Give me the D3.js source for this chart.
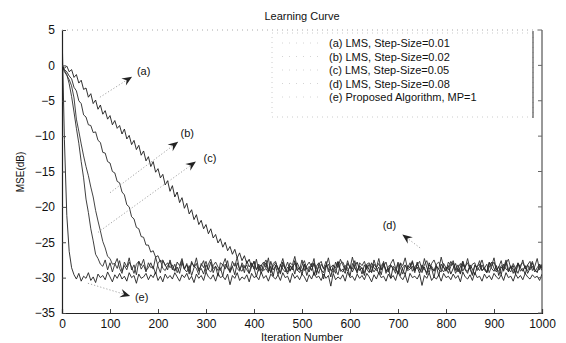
<!DOCTYPE html>
<html>
<head>
<meta charset="utf-8">
<script src="https://cdn.jsdelivr.net/npm/d3@7"></script>
<style>
  body { margin: 0; background: #fff; }
  text { font-family: "Liberation Sans", Arial, Helvetica, sans-serif; fill: #111; }
</style>
</head>
<body>
<div id="svgContainer"></div>
<script>
// iteration index shared by all curves (one sample every 5 iterations)
var iterations = d3.range(0, 1001, 5);

// (a) LMS, step-size 0.01
var mseA = [
  0.0,-0.4,-0.1,-0.9,-0.6,-1.7,-1.3,-2.5,-2.1,-3.4,
  -3.2,-4.5,-4.0,-5.4,-4.9,-6.2,-5.6,-6.9,-6.4,-7.6,
  -7.1,-8.4,-7.8,-8.9,-8.5,-9.7,-9.0,-10.4,-9.9,-11.2,
  -10.6,-11.9,-11.3,-12.7,-12.1,-13.5,-12.9,-14.3,-13.6,-15.1,
  -14.6,-15.9,-15.4,-16.9,-16.3,-17.8,-17.0,-18.6,-17.9,-19.4,
  -18.7,-20.2,-19.5,-21.0,-20.4,-21.8,-21.1,-22.5,-21.9,-23.1,
  -22.5,-23.8,-23.1,-24.4,-23.9,-25.1,-24.5,-25.7,-25.0,-26.2,
  -25.6,-26.7,-26.0,-27.2,-26.5,-27.6,-26.9,-28.0,-27.4,-28.5,
  -27.7,
  -28.9,-28.1,-29.4,-28.6,-27.9,-29.1,-28.4,-29.8,-28.2,-28.7,
  -29.3,-27.8,-28.8,-29.5,-28.3,-28.9,-27.6,-29.0,-28.5,-29.6,
  -28.1,-28.8,-29.2,-28.0,-29.7,-28.4,-27.9,-28.9,-29.3,-28.2,
  -28.7,-29.9,-28.3,-28.6,-27.7,-29.1,-28.8,-29.4,-28.0,-28.5,
  -29.2,-28.4,-27.8,-29.0,-28.6,-29.7,-28.2,-28.9,-29.3,-28.1,
  -28.6,-29.5,-28.3,-27.9,-29.1,-28.7,-30.1,-28.4,-28.8,-29.2,
  -28.0,-28.9,-29.6,-28.3,-28.6,-27.8,-29.0,-28.5,-29.4,-28.2,
  -28.8,-29.3,-27.9,-28.7,-29.1,-28.4,-29.8,-28.1,-28.6,-29.0,
  -28.3,-29.5,-28.7,-28.0,-29.2,-28.5,-27.7,-28.9,-29.4,-28.2,
  -28.8,-29.6,-28.4,-28.1,-29.0,-28.6,-29.3,-27.9,-28.7,-29.1,
  -28.3,-29.7,-28.5,-28.9,-27.8,-29.2,-28.4,-28.8,-29.5,-28.0,
  -28.6,-29.1,-28.3,-29.4,-28.7,-27.9,-28.9,-29.2,-28.4,-28.6
];

// (b) LMS, step-size 0.02
var mseB = [
  0.0,-0.6,-0.9,-1.5,-1.9,-3.1,-3.6,-5.0,-5.4,-7.0,
  -7.3,-8.4,-8.5,-9.5,-9.4,-10.6,-10.9,-12.3,-12.4,-13.6,
  -13.8,-15.0,-15.2,-16.4,-16.6,-17.9,-18.3,-19.7,-20.0,-21.4,
  -21.7,-22.9,-23.1,-24.2,-24.3,-25.4,-25.4,-26.4,-26.2,-27.1,
  -26.9,-27.8,-27.5,-28.3,-27.9,-28.6,
  -28.2,-29.0,-28.5,-29.4,-27.9,-28.8,-29.2,-28.3,-29.7,-28.6,
  -28.0,-29.1,-28.7,-29.5,-28.2,-28.9,-27.8,-29.3,-28.4,-29.0,
  -28.6,-29.8,-28.1,-28.7,-29.2,-28.4,-29.6,-27.9,-28.8,-29.1,
  -28.3,-28.9,-29.4,-28.0,-28.6,-29.9,-28.5,-28.2,-29.0,-28.7,
  -29.3,-27.7,-28.9,-28.4,-29.6,-28.1,-28.8,-29.2,-28.5,-29.0,
  -28.3,-29.5,-27.9,-28.7,-29.1,-28.2,-29.7,-28.6,-28.9,-28.0,
  -29.3,-28.4,-28.8,-30.2,-28.5,-28.1,-29.0,-28.7,-29.4,-27.8,
  -28.9,-29.2,-28.3,-28.6,-29.8,-28.0,-28.7,-29.1,-28.4,-29.5,
  -28.2,-28.8,-29.3,-27.9,-28.6,-29.0,-28.5,-29.6,-28.1,-28.9,
  -29.2,-28.3,-28.7,-29.4,-28.0,-29.7,-28.6,-28.2,-29.0,-28.8,
  -28.4,-29.3,-27.8,-28.9,-29.1,-28.5,-29.6,-28.2,-28.7,-30.0,
  -28.3,-28.9,-29.2,-28.0,-28.6,-29.4,-28.4,-27.9,-29.0,-28.7,
  -29.5,-28.1,-28.8,-29.1,-28.4,-29.7,-28.3,-28.6,-29.0,-28.2,
  -28.9,-29.3,-28.5,-27.8,-28.7,-29.2,-28.4,-29.6,-28.1,-28.8,
  -29.0,-28.3,-29.4,-28.6,-28.0,-29.1,-28.7,-29.5,-28.2,-28.9,
  -28.4,-29.2,-28.6,-28.1,-29.0
];

// (c) LMS, step-size 0.05
var mseC = [
  0.0,-0.9,-1.4,-2.0,-2.9,-4.6,-7.6,-9.3,-11.1,-12.8,
  -14.3,-15.6,-17.2,-18.6,-20.5,-22.0,-23.4,-24.9,-25.8,-27.0,
  -27.3,-28.1,
  -28.0,-28.7,-27.6,-29.1,-28.3,-28.9,-27.8,-28.5,-29.4,-28.1,
  -27.7,-28.8,-28.2,-29.2,-27.9,-28.6,-28.4,-29.5,-28.0,-27.5,
  -28.7,-29.0,-28.3,-27.8,-28.9,-28.1,-29.3,-28.5,-27.6,-28.8,
  -28.2,-29.1,-27.9,-28.4,-28.7,-29.6,-28.0,-28.6,-27.7,-28.9,
  -29.2,-28.3,-27.8,-28.5,-29.0,-28.1,-28.8,-27.6,-29.3,-28.4,
  -28.0,-28.7,-29.1,-27.9,-28.6,-28.2,-29.4,-28.5,-27.7,-28.9,
  -28.3,-29.0,-28.1,-27.5,-28.8,-29.2,-28.4,-27.9,-28.6,-29.5,
  -28.2,-28.7,-27.8,-29.1,-28.5,-28.0,-28.9,-29.3,-28.3,-27.6,
  -28.8,-28.4,-29.0,-27.9,-28.6,-29.4,-28.1,-28.7,-27.7,-29.2,
  -28.5,-28.2,-28.9,-29.6,-28.0,-27.8,-28.6,-29.1,-28.4,-28.8,
  -27.6,-29.0,-28.3,-28.7,-29.3,-28.1,-27.9,-28.5,-29.2,-28.6,
  -28.0,-28.9,-27.7,-29.4,-28.4,-28.2,-28.8,-29.0,-27.8,-28.6,
  -29.5,-28.3,-28.7,-27.9,-29.1,-28.5,-28.0,-28.9,-29.3,-28.2,
  -27.6,-28.8,-28.4,-29.0,-28.1,-27.8,-28.7,-29.2,-28.5,-28.9,
  -27.7,-28.3,-29.4,-28.6,-28.0,-29.1,-28.4,-27.9,-28.8,-29.6,
  -28.2,-28.5,-27.6,-29.0,-28.7,-28.1,-29.3,-28.4,-27.8,-28.9,
  -29.1,-28.3,-28.6,-27.5,-28.8,-29.2,-28.0,-28.7,-29.4,-28.2,
  -27.9,-28.6,-29.0,-28.4,-27.7,-28.9,-29.3,-28.1,-28.5
];

// (d) LMS, step-size 0.08
var mseD = [
  0.0,-0.7,-1.3,-2.6,-4.4,-6.6,-8.9,-11.0,-13.6,-15.9,
  -18.9,-20.8,-23.1,-24.8,-26.7,-27.3,-28.1,
  -28.4,-27.5,-28.9,-27.9,-29.2,-28.1,-27.3,-28.7,-29.4,-27.8,
  -28.5,-27.2,-28.9,-28.2,-29.6,-27.7,-28.3,-27.4,-29.0,-28.6,
  -27.9,-28.8,-27.1,-28.4,-29.3,-27.6,-28.2,-28.9,-27.5,-28.7,
  -29.1,-27.8,-28.3,-27.3,-28.8,-28.0,-29.5,-27.7,-28.5,-27.2,
  -28.9,-28.3,-27.6,-29.2,-28.1,-27.4,-28.7,-28.4,-29.8,-27.9,
  -28.2,-27.3,-28.6,-29.0,-27.7,-28.4,-27.1,-28.9,-28.2,-29.3,
  -27.6,-28.5,-27.9,-28.8,-27.4,-29.1,-28.3,-27.8,-28.6,-27.2,
  -29.4,-28.0,-27.7,-28.9,-28.4,-27.3,-28.7,-29.2,-27.9,-28.2,
  -27.0,-28.6,-28.9,-27.5,-29.0,-28.3,-27.8,-28.5,-27.3,-29.6,
  -28.1,-27.7,-28.8,-28.4,-27.2,-28.9,-29.3,-27.8,-28.6,-27.4,
  -28.2,-29.0,-27.6,-28.7,-27.1,-28.5,-29.4,-27.9,-28.3,-27.7,
  -28.8,-28.1,-29.2,-27.5,-28.6,-27.3,-28.9,-28.4,-27.8,-29.1,
  -28.0,-27.4,-28.7,-29.5,-27.9,-28.3,-27.2,-28.8,-28.5,-27.6,
  -29.0,-28.2,-27.7,-28.9,-27.3,-28.6,-29.3,-28.0,-27.5,-28.4,
  -28.8,-27.1,-28.5,-29.1,-27.8,-28.3,-27.6,-28.9,-28.2,-29.4,
  -27.7,-28.6,-27.3,-28.8,-28.1,-27.9,-29.0,-28.4,-27.5,-28.7,
  -29.2,-27.8,-28.3,-27.2,-28.9,-28.5,-27.6,-29.1,-28.0,-27.4,
  -28.7,-28.3,-29.3,-27.9,-28.6,-27.5,-28.8,-28.2,-27.7,-29.0,
  -28.4,-27.3,-28.9,-28.1
];

// (e) Proposed algorithm, MP = 1
var mseE = [
  5.0,-10.5,-21.2,-26.3,-28.6,
  -29.6,-30.2,-29.4,-30.5,-29.8,-30.1,-29.3,-30.4,-29.9,-30.7,
  -29.5,-30.0,-29.7,-30.3,-29.2,-29.9,-30.6,-29.6,-30.1,-29.4,
  -30.2,-29.8,-30.5,-29.3,-30.0,-29.7,-30.8,-29.5,-30.1,-29.9,
  -29.4,-30.3,-29.6,-30.0,-29.2,-30.4,-29.8,-30.6,-29.5,-30.1,
  -29.7,-30.2,-29.3,-29.9,-30.5,-29.6,-30.0,-29.4,-30.3,-29.8,
  -30.7,-29.5,-30.1,-29.7,-30.4,-29.2,-29.9,-30.2,-29.6,-30.5,
  -29.4,-30.0,-29.8,-30.3,-29.5,-31.0,-29.7,-30.1,-29.3,-30.4,
  -29.9,-30.2,-29.6,-30.6,-29.4,-30.0,-29.8,-30.3,-29.2,-30.1,
  -29.7,-30.5,-29.5,-29.9,-30.2,-29.6,-30.4,-29.3,-30.0,-29.8,
  -30.7,-29.4,-30.1,-29.7,-30.3,-29.5,-29.9,-30.6,-29.6,-30.2,
  -29.3,-30.0,-29.8,-30.4,-29.5,-30.1,-29.7,-31.2,-29.4,-30.3,
  -29.9,-30.2,-29.6,-30.5,-29.2,-30.0,-29.8,-30.4,-29.5,-30.1,
  -29.7,-30.3,-29.4,-29.9,-30.6,-29.6,-30.2,-29.3,-30.0,-29.8,
  -30.5,-29.5,-30.1,-29.7,-30.4,-29.2,-29.9,-30.3,-29.6,-30.7,
  -29.4,-30.0,-29.8,-30.2,-29.5,-31.1,-29.7,-30.1,-29.3,-30.4,
  -29.9,-30.2,-29.6,-30.5,-29.4,-30.0,-29.8,-30.3,-29.5,-30.1,
  -29.7,-30.6,-29.2,-29.9,-30.2,-29.6,-30.4,-29.3,-30.0,-29.8,
  -30.5,-29.5,-30.1,-29.7,-30.3,-29.4,-29.9,-30.2,-29.6,-30.4,
  -29.3,-30.0,-29.8,-30.5,-29.5,-30.1,-29.7,-30.3,-29.4,-29.9,
  -30.2,-29.6,-30.0,-29.8,-30.4,-29.5
];

var seriesNames = ["(a)", "(b)", "(c)", "(d)", "(e)"];
var legendLabels = [
  "(a) LMS, Step-Size=0.01",
  "(b) LMS, Step-Size=0.02",
  "(c) LMS, Step-Size=0.05",
  "(d) LMS, Step-Size=0.08",
  "(e) Proposed Algorithm, MP=1"
];
var xTickValues = [0, 100, 200, 300, 400, 500, 600, 700, 800, 900, 1000];
var yTickValues = [5, 0, -5, -10, -15, -20, -25, -30, -35];

var allSeries = [mseA, mseB, mseC, mseD, mseE];

var width = 566, height = 343;
var margin = {top: 30, right: 24, bottom: 30, left: 62};

var svg = d3.select("#svgContainer").append("svg")
    .attr("width", width)
    .attr("height", height);

svg.append("rect").attr("width", width).attr("height", height).attr("fill", "#fff");

var x = d3.scaleLinear().domain([0, 1000]).range([margin.left, width - margin.right]);
var y = d3.scaleLinear().domain([-35, 5]).range([height - margin.bottom, margin.top]);

svg.append("defs").append("clipPath")
    .attr("id", "plotclip")
  .append("rect")
    .attr("x", x(0)).attr("y", y(5))
    .attr("width", x(1000) - x(0)).attr("height", y(-35) - y(5));

// arrow head used by the annotations
svg.select("defs").append("marker")
    .attr("id", "arrowhead")
    .attr("viewBox", "-11 -5 12 10")
    .attr("refX", 0)
    .attr("refY", 0)
    .attr("orient", "auto")
    .attr("markerUnits", "userSpaceOnUse")
    .attr("markerWidth", 12)
    .attr("markerHeight", 10)
  .append("path")
    .attr("d", "M0,0L-10,-4.2L-6.5,0L-10,4.2Z")
    .attr("fill", "#222");

// title and axis labels
svg.append("text")
    .attr("x", 302).attr("y", 20)
    .attr("text-anchor", "middle")
    .attr("font-size", "11px")
    .text("Learning Curve");

svg.append("text")
    .attr("x", 302).attr("y", 341)
    .attr("text-anchor", "middle")
    .attr("font-size", "11px")
    .text("Iteration Number");

svg.append("text")
    .attr("transform", "translate(24,172) rotate(-90)")
    .attr("text-anchor", "middle")
    .attr("font-size", "10px")
    .text("MSE(dB)");

// curves
var line = d3.line()
    .x(function(d, i) { return x(iterations[i]); })
    .y(function(d) { return y(d); });

var curveColors = ["#1a1a1a", "#262626", "#303030", "#2a2a2a", "#1f1f1f"];

svg.append("g")
    .attr("clip-path", "url(#plotclip)")
  .selectAll("path")
    .data(allSeries)
  .enter().append("path")
    .attr("fill", "none")
    .attr("stroke", function(d, i) { return curveColors[i]; })
    .attr("stroke-width", 0.9)
    .attr("stroke-linejoin", "round")
    .attr("d", line);

// axes, ticks point inward
var xAxis = svg.append("g")
    .attr("transform", "translate(0," + y(-35) + ")")
    .call(d3.axisBottom(x).tickValues(xTickValues).tickFormat(d3.format("d"))
      .tickSize(-4).tickPadding(6));
var yAxis = svg.append("g")
    .attr("transform", "translate(" + x(0) + ",0)")
    .call(d3.axisLeft(y).tickValues(yTickValues).tickSize(-4).tickPadding(7));

[xAxis, yAxis].forEach(function(ax) {
  ax.select(".domain").attr("stroke", "#222").attr("stroke-width", 1.2);
  ax.selectAll(".tick line").attr("stroke", "#444");
  ax.selectAll(".tick text")
    .attr("font-size", "12px")
    .attr("font-family", "\"Liberation Sans\", Arial, sans-serif")
    .attr("fill", "#111");
});

// right and top edges of the box
svg.append("line")
    .attr("x1", x(1000)).attr("x2", x(1000))
    .attr("y1", y(5)).attr("y2", y(-35))
    .attr("stroke", "#333").attr("stroke-width", 1);
svg.append("line")
    .attr("x1", x(0)).attr("x2", x(1000))
    .attr("y1", y(5)).attr("y2", y(5))
    .attr("stroke", "#aaa").attr("stroke-width", 1)
    .attr("stroke-dasharray", "1,4");
svg.append("g").selectAll("line")
    .data(yTickValues)
  .enter().append("line")
    .attr("x1", x(1000)).attr("x2", x(1000) - 4)
    .attr("y1", function(d) { return y(d); })
    .attr("y2", function(d) { return y(d); })
    .attr("stroke", "#666");

// legend
var legend = svg.append("g");
legend.append("rect")
    .attr("x", 272).attr("y", 33)
    .attr("width", 261).attr("height", 84)
    .attr("fill", "none")
    .attr("stroke", "#ccc")
    .attr("stroke-dasharray", "1,4");
legend.append("line")
    .attr("x1", 533).attr("x2", 533)
    .attr("y1", 31).attr("y2", 118)
    .attr("stroke", "#333");

var rows = legend.selectAll(".row")
    .data(legendLabels)
  .enter().append("g")
    .attr("class", "row")
    .attr("transform", function(d, i) { return "translate(0," + (47 + i * 13.5) + ")"; });

rows.append("line")
    .attr("x1", 282).attr("x2", 322)
    .attr("y1", -4).attr("y2", -4)
    .attr("stroke", "#d4d4d4")
    .attr("stroke-dasharray", "1,6");

rows.append("text")
    .attr("x", 329)
    .attr("font-size", "11px")
    .text(function(d) { return d; });

// annotations: [tail, arrow tip, text position] in data units
var annotationLayout = [
  {tail: [79, -4.5],   tip: [146, -1.6],  text: [156, -1.3]},
  {tail: [100, -18.0], tip: [242, -10.8], text: [247, -10.1]},
  {tail: [75, -23.6],  tip: [279, -13.6], text: [295, -13.7]},
  {tail: [746, -25.8], tip: [709, -23.9], text: [668, -23.1]},
  {tail: [54, -30.8],  tip: [142, -32.6], text: [152, -33.3]}
];

var notes = svg.append("g").selectAll("g")
    .data(seriesNames)
  .enter().append("g");

notes.append("line")
    .attr("x1", function(d, i) { return x(annotationLayout[i].tail[0]); })
    .attr("y1", function(d, i) { return y(annotationLayout[i].tail[1]); })
    .attr("x2", function(d, i) { return x(annotationLayout[i].tip[0]); })
    .attr("y2", function(d, i) { return y(annotationLayout[i].tip[1]); })
    .attr("stroke", "#999")
    .attr("stroke-width", 0.9)
    .attr("stroke-dasharray", "1.2,2")
    .attr("marker-end", "url(#arrowhead)");

notes.append("text")
    .attr("x", function(d, i) { return x(annotationLayout[i].text[0]); })
    .attr("y", function(d, i) { return y(annotationLayout[i].text[1]); })
    .attr("font-size", "11px")
    .text(function(d) { return d; });
</script>
</body>
</html>
